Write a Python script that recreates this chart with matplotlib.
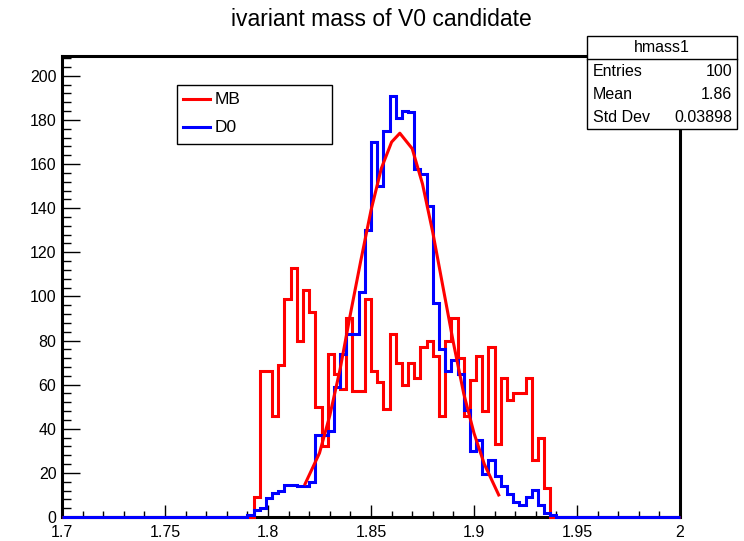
import numpy as np
import matplotlib
matplotlib.use('Agg')
import matplotlib.pyplot as plt
from matplotlib.patches import Rectangle
from matplotlib.lines import Line2D
from matplotlib.ticker import MultipleLocator

plt.rcParams['font.family'] = ['Liberation Sans', 'DejaVu Sans']

# ---------------- data ----------------
title = "ivariant mass of V0 candidate"
x_lo, x_hi, n_bins = 1.7, 2.0, 100
y_max = 209
x_major = [1.7, 1.75, 1.8, 1.85, 1.9, 1.95, 2.0]
x_labels = ["1.7", "1.75", "1.8", "1.85", "1.9", "1.95", "2"]
y_major = [0, 20, 40, 60, 80, 100, 120, 140, 160, 180, 200]
y_labels = ["0", "20", "40", "60", "80", "100", "120", "140", "160", "180", "200"]

# MB histogram (red), contents of bins starting at mb_first_bin
mb_first_bin = 31
mb_counts = [9, 66, 66, 46, 69, 99, 113, 80, 103, 93,
             50, 32, 74, 65, 58, 90, 57, 57, 99, 66,
             61, 49, 83, 70, 60, 70, 63, 77, 80, 73,
             46, 80, 90, 72, 46, 62, 73, 48, 77, 33,
             63, 53, 56, 56, 63, 26, 36, 13]

# D0 histogram (blue)
d0_first_bin = 30
d0_counts = [1, 3, 4, 8.5, 11, 12, 14.5, 14.5, 14, 14,
             16, 37, 37, 39, 59, 74, 83, 83, 102, 130,
             170, 150, 175, 191, 181, 184, 183.5, 157.7, 155.5, 141,
             97, 76, 66, 71, 65, 48.6, 29.7, 35, 19.5, 26,
             18.7, 14, 10.5, 7, 5.5, 9, 12.3, 5.5, 2, 1]

# Gaussian fit curve on MB (red)
fit_x = [1.818, 1.825, 1.830, 1.835, 1.840, 1.845, 1.850, 1.855, 1.860, 1.864,
         1.870, 1.875, 1.880, 1.885, 1.890, 1.895, 1.900, 1.905, 1.910, 1.912]
fit_y = [15, 29, 46, 67, 92, 116, 139, 158, 170, 174,
         167, 151, 129, 104, 79, 56, 38, 24, 14, 10]

legend_labels = ["MB", "D0"]
stats_name = "hmass1"
stats_keys = ["Entries", "Mean", "Std Dev"]
stats_vals = ["100", "1.86", "0.03898"]

# ---------------- figure ----------------
W, H = 744, 541
fig = plt.figure(figsize=(W / 100, H / 100), dpi=100)


def fx(px):
    return px / W


def fy(py):
    return 1 - py / H


ax = fig.add_axes([fx(62), fy(517), (680 - 62) / W, (517 - 56) / H])

edges = x_lo + (x_hi - x_lo) / n_bins * np.arange(n_bins + 1)
mb = np.zeros(n_bins)
mb[mb_first_bin:mb_first_bin + len(mb_counts)] = mb_counts
d0 = np.zeros(n_bins)
d0[d0_first_bin:d0_first_bin + len(d0_counts)] = d0_counts

RED = (1, 0, 0)
BLUE = (0, 0, 1)
ax.stairs(mb, edges, color=RED, lw=2.2, zorder=3, clip_on=False)
ax.stairs(d0, edges, color=BLUE, lw=2.2, zorder=3.1, clip_on=False)
ax.plot(fit_x, fit_y, color=RED, lw=2.2, zorder=4)

ax.set_xlim(x_lo, x_hi)
ax.set_ylim(0, y_max)
ax.set_xticks(x_major, x_labels)
ax.set_yticks(y_major, y_labels)
ax.xaxis.set_minor_locator(MultipleLocator(0.01))
ax.yaxis.set_minor_locator(MultipleLocator(4))
for s in ax.spines.values():
    s.set_linewidth(2.2)
    s.set_color('black')
ax.tick_params(axis='both', which='both', direction='in', top=False, right=False,
               width=1.0, colors='black', labelsize=11.5)
ax.tick_params(axis='x', which='major', length=9, pad=5.5)
ax.tick_params(axis='x', which='minor', length=4.5)
ax.tick_params(axis='y', which='major', length=13, pad=4)
ax.tick_params(axis='y', which='minor', length=6.5)

# title
fig.text(fx(381), fy(20), title, ha='center', va='center', fontsize=16.5)

# legend box
fig.patches.append(Rectangle((fx(177), fy(144)), (332 - 177) / W, (144 - 85) / H,
                             transform=fig.transFigure, facecolor='white',
                             edgecolor='black', lw=1.0, zorder=5))
for yy, col, lab in [(99, RED, legend_labels[0]), (127, BLUE, legend_labels[1])]:
    fig.lines.append(Line2D([fx(183), fx(210)], [fy(yy), fy(yy)], color=col, lw=2.2,
                            transform=fig.transFigure, zorder=6))
    fig.text(fx(215), fy(yy), lab, ha='left', va='center', fontsize=12.5, zorder=6)

# stats box
bx0, bx1, by0, by1 = 587, 737, 36, 129
fig.patches.append(Rectangle((fx(bx0), fy(by1)), (bx1 - bx0) / W, (by1 - by0) / H,
                             transform=fig.transFigure, facecolor='white',
                             edgecolor='black', lw=1.0, zorder=5))
fig.lines.append(Line2D([fx(bx0), fx(bx1)], [fy(59), fy(59)], color='black', lw=1.0,
                        transform=fig.transFigure, zorder=6))
fig.text(fx((bx0 + bx1) / 2), fy(48), stats_name, ha='center', va='center',
         fontsize=11.5, zorder=6)
for yy, k, v in zip([72, 94.5, 117], stats_keys, stats_vals):
    fig.text(fx(593), fy(yy), k, ha='left', va='center', fontsize=11.5, zorder=6)
    fig.text(fx(732), fy(yy), v, ha='right', va='center', fontsize=11.5, zorder=6)

fig.savefig('out.png', dpi=100)
